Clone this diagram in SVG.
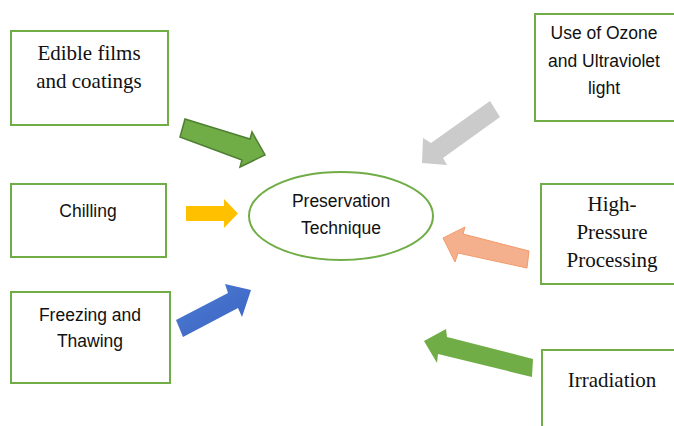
<svg xmlns="http://www.w3.org/2000/svg" width="674" height="426" viewBox="0 0 674 426">
  <style>
    .box { fill: #ffffff; stroke: #70ad47; stroke-width: 2; }
    .serif { font-family: "Liberation Serif", "Times New Roman", serif; font-size: 21px; fill: #111111; text-anchor: middle; }
    .sans { font-family: "Liberation Sans", Arial, sans-serif; font-size: 17.5px; fill: #111111; text-anchor: middle; }
  </style>
  <defs>
    <linearGradient id="blueFill" x1="0" y1="0" x2="1" y2="1">
      <stop offset="0" stop-color="#4d7cd2"/>
      <stop offset="1" stop-color="#3a63c2"/>
    </linearGradient>
  </defs>
  <rect width="674" height="426" fill="#ffffff"/>

  <g id="center">
    <ellipse cx="341" cy="216" rx="92" ry="44" fill="#ffffff" stroke="#70ad47" stroke-width="2"/>
    <text class="sans" x="341" y="207">Preservation</text>
    <text class="sans" x="341" y="234">Technique</text>
  </g>

  <g id="edible">
    <rect class="box" x="11" y="31" width="157" height="94"/>
    <text class="serif" x="89" y="60">Edible films</text>
    <text class="serif" x="89" y="88">and coatings</text>
  </g>

  <g id="chilling">
    <rect class="box" x="11" y="184" width="155" height="73"/>
    <text class="sans" x="88" y="217">Chilling</text>
  </g>

  <g id="freezing">
    <rect class="box" x="11" y="292" width="159" height="91"/>
    <text class="sans" x="90" y="321">Freezing and</text>
    <text class="sans" x="90" y="347">Thawing</text>
  </g>

  <g id="ozone">
    <rect class="box" x="535" y="14" width="150" height="107"/>
    <text class="sans" x="604" y="39">Use of Ozone</text>
    <text class="sans" x="604" y="67">and Ultraviolet</text>
    <text class="sans" x="604" y="94">light</text>
  </g>

  <g id="pressure">
    <rect class="box" x="541" y="184" width="145" height="100"/>
    <text class="serif" x="612" y="211">High-</text>
    <text class="serif" x="612" y="239">Pressure</text>
    <text class="serif" x="612" y="267">Processing</text>
  </g>

  <g id="irradiation">
    <rect class="box" x="542" y="350" width="145" height="90"/>
    <text class="serif" x="612" y="387">Irradiation</text>
  </g>

  <g id="connectors">
    <polygon points="185,119 250,139 252,132 265,155 240,167 242,160 180,137" fill="#70ad47" stroke="#4f7f31" stroke-width="1.5" stroke-linejoin="miter"/>
    <polygon points="186,206 224,206 224,199 238,213.5 224,228 224,221 186,221" fill="#ffc000"/>
    <polygon points="176,320 228,293 225,284 251,290 242,317 238,308 183,337" fill="url(#blueFill)"/>
    <polygon points="490,101 500,117 443,158 447,165 422,163 423,138 431,143" fill="#cbcbcb"/>
    <polygon points="529,251 463,234 465,227 443,238 455,262 458,253 527,268" fill="#f4b08c" stroke="#f39a6a" stroke-width="1"/>
    <polygon points="533,359 447,337 446,329 424,341 437,363 438,354 532,377" fill="#70ad47"/>
  </g>
</svg>
